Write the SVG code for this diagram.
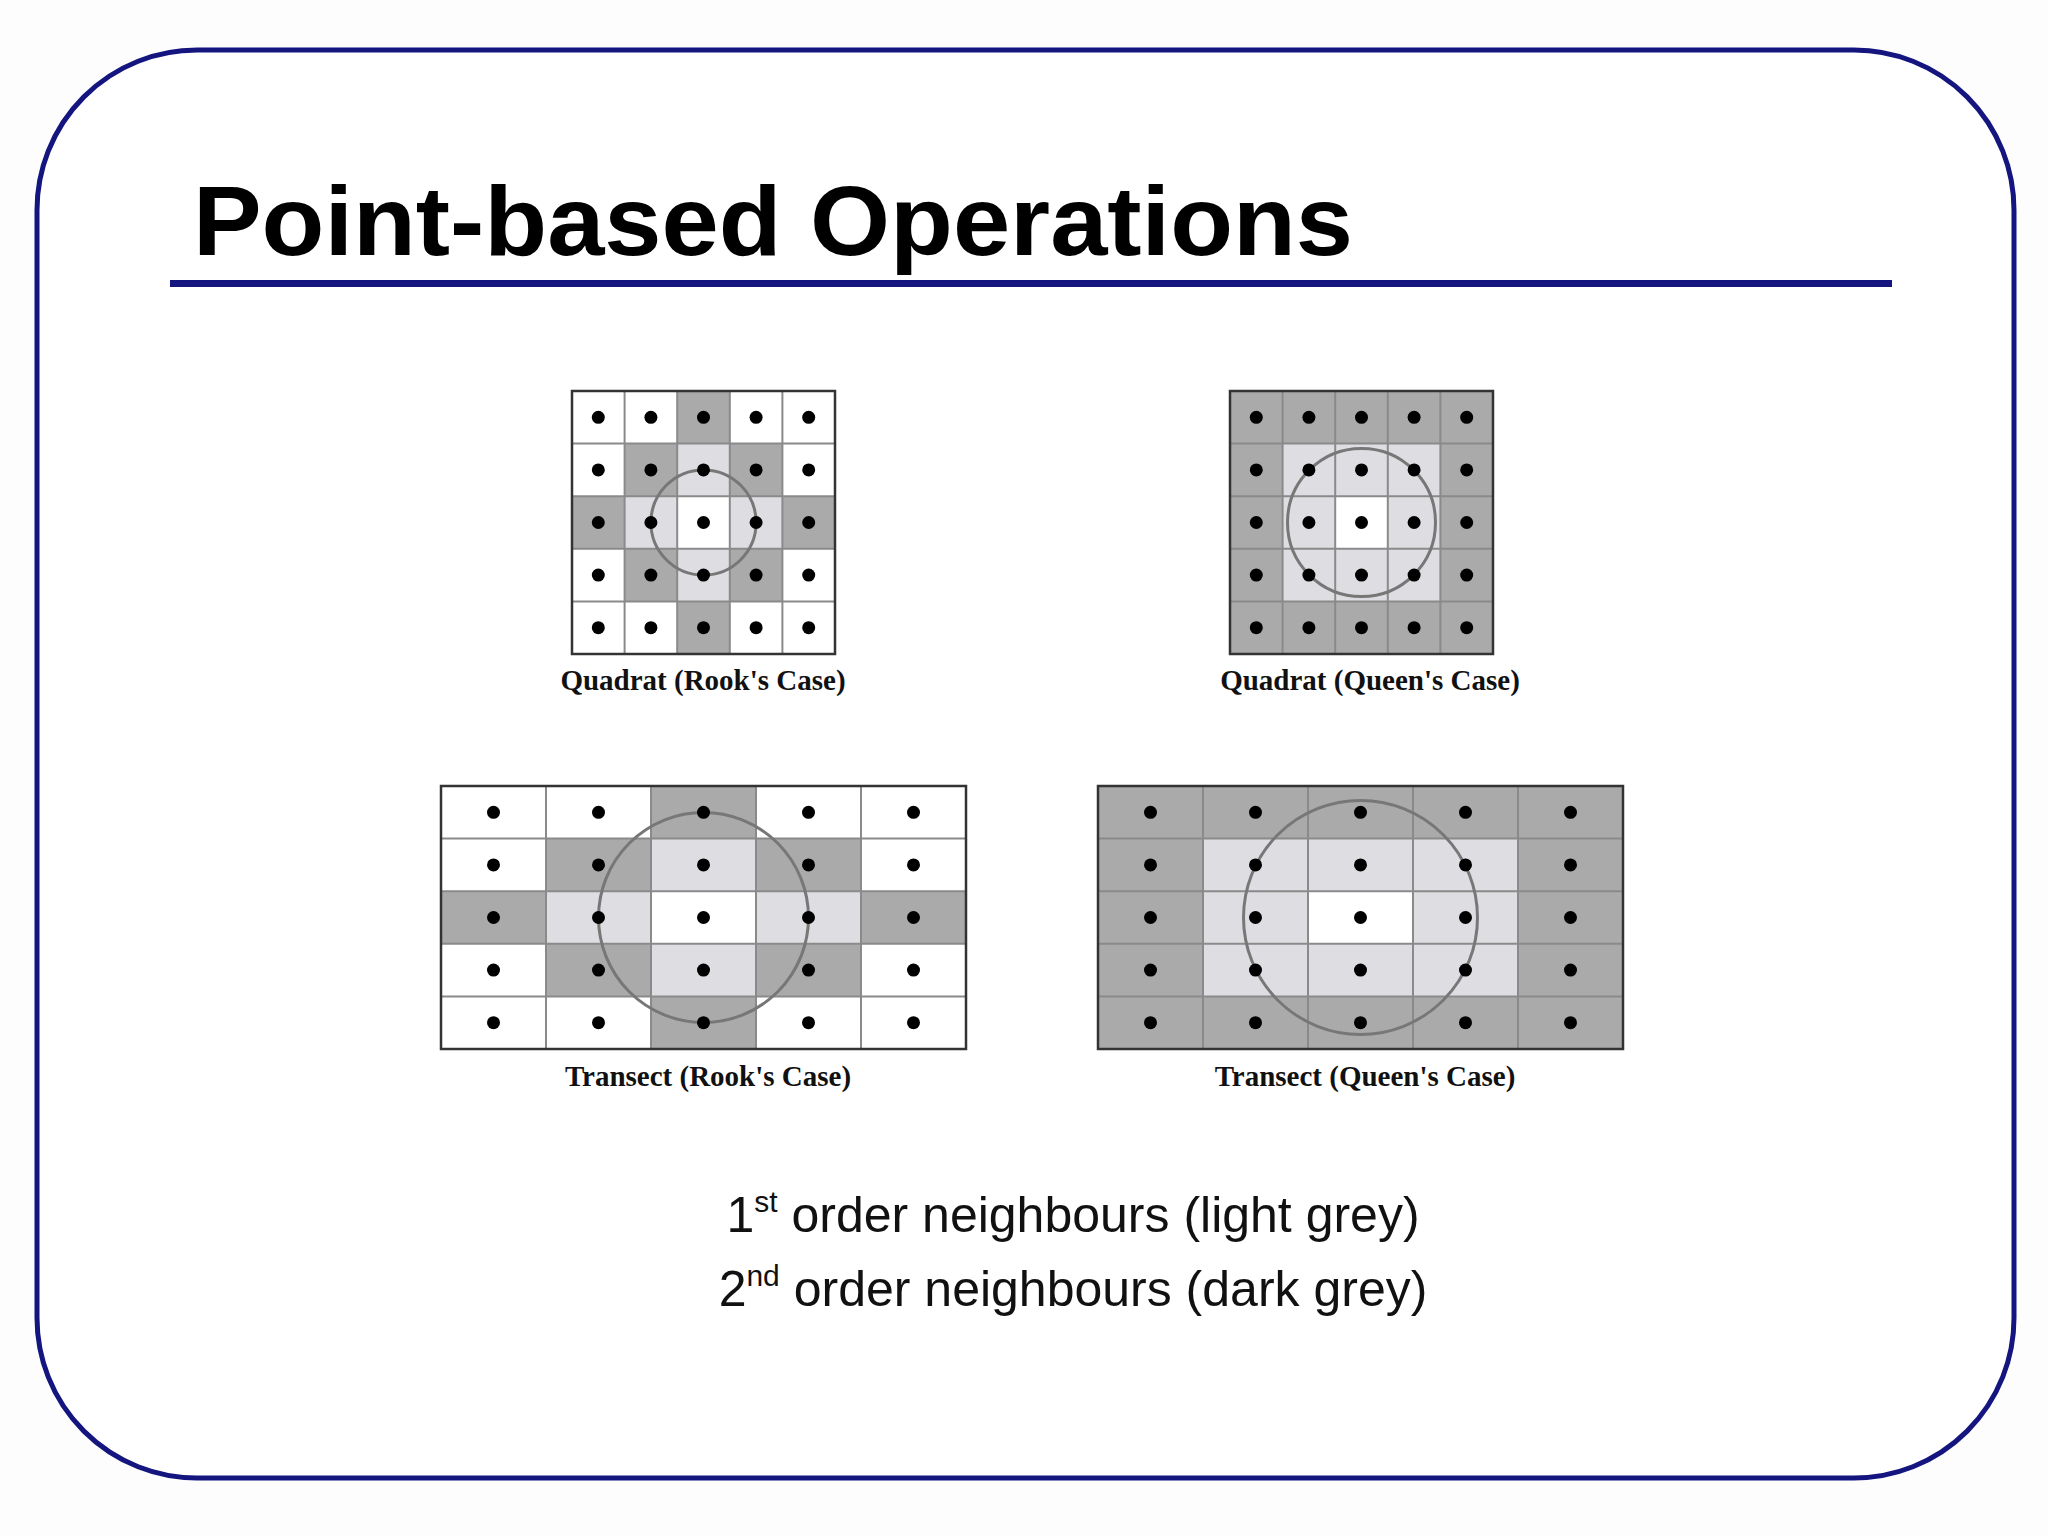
<svg xmlns="http://www.w3.org/2000/svg" width="2048" height="1536" viewBox="0 0 2048 1536">
<style>
.d{fill:#aaaaab}.l{fill:#dedee2}.w{fill:#fff}
.g{fill:none;stroke:#8a8a8a;stroke-width:2}
.o{fill:none;stroke:#333;stroke-width:2.5}
.c{fill:none;stroke:#777;stroke-width:3}
.cap{font-family:"Liberation Serif",serif;font-weight:bold;font-size:29px;fill:#111;text-anchor:middle}
.leg{font-family:"Liberation Sans",Arial,sans-serif;font-size:50px;fill:#111;text-anchor:middle}
</style>
<defs><circle id="dt" r="6.5" fill="#000"/></defs>
<rect width="2048" height="1536" fill="#fdfdfe"/>
<rect x="37" y="50" width="1977" height="1428" rx="160" ry="160" fill="#fff" stroke="#15157f" stroke-width="5"/>
<text x="193" y="255" font-family="'Liberation Sans',Arial,sans-serif" font-weight="900" font-size="98" textLength="1160" lengthAdjust="spacingAndGlyphs" fill="#000">Point-based Operations</text>
<rect x="170" y="280" width="1722" height="7" fill="#15157f"/>

<g id="quadrat-rook">
<rect x="572" y="391" width="263" height="263" class="w"/>
<rect x="677.2" y="391" width="52.6" height="52.6" class="d"/>
<rect x="624.6" y="443.6" width="52.6" height="52.6" class="d"/>
<rect x="729.8" y="443.6" width="52.6" height="52.6" class="d"/>
<rect x="572" y="496.2" width="52.6" height="52.6" class="d"/>
<rect x="782.4" y="496.2" width="52.6" height="52.6" class="d"/>
<rect x="624.6" y="548.8" width="52.6" height="52.6" class="d"/>
<rect x="729.8" y="548.8" width="52.6" height="52.6" class="d"/>
<rect x="677.2" y="601.4" width="52.6" height="52.6" class="d"/>
<rect x="677.2" y="443.6" width="52.6" height="52.6" class="l"/>
<rect x="624.6" y="496.2" width="52.6" height="52.6" class="l"/>
<rect x="729.8" y="496.2" width="52.6" height="52.6" class="l"/>
<rect x="677.2" y="548.8" width="52.6" height="52.6" class="l"/>
<path class="g" d="M624.6 391V654M677.2 391V654M729.8 391V654M782.4 391V654M572 443.6H835M572 496.2H835M572 548.8H835M572 601.4H835"/>
<rect x="572" y="391" width="263" height="263" class="o"/>
<circle cx="703.5" cy="522.5" r="52.6" class="c"/>
<g>
<use href="#dt" x="598.3" y="417.3"/><use href="#dt" x="650.9" y="417.3"/><use href="#dt" x="703.5" y="417.3"/><use href="#dt" x="756.1" y="417.3"/><use href="#dt" x="808.7" y="417.3"/>
<use href="#dt" x="598.3" y="469.9"/><use href="#dt" x="650.9" y="469.9"/><use href="#dt" x="703.5" y="469.9"/><use href="#dt" x="756.1" y="469.9"/><use href="#dt" x="808.7" y="469.9"/>
<use href="#dt" x="598.3" y="522.5"/><use href="#dt" x="650.9" y="522.5"/><use href="#dt" x="703.5" y="522.5"/><use href="#dt" x="756.1" y="522.5"/><use href="#dt" x="808.7" y="522.5"/>
<use href="#dt" x="598.3" y="575.1"/><use href="#dt" x="650.9" y="575.1"/><use href="#dt" x="703.5" y="575.1"/><use href="#dt" x="756.1" y="575.1"/><use href="#dt" x="808.7" y="575.1"/>
<use href="#dt" x="598.3" y="627.7"/><use href="#dt" x="650.9" y="627.7"/><use href="#dt" x="703.5" y="627.7"/><use href="#dt" x="756.1" y="627.7"/><use href="#dt" x="808.7" y="627.7"/>
</g>
<text x="703" y="690" class="cap">Quadrat (Rook's Case)</text>
</g>

<g id="quadrat-queen">
<rect x="1230" y="391" width="263" height="263" class="d"/>
<rect x="1282.6" y="443.6" width="157.8" height="157.8" class="l"/>
<rect x="1335.2" y="496.2" width="52.6" height="52.6" class="w"/>
<path class="g" d="M1282.6 391V654M1335.2 391V654M1387.8 391V654M1440.4 391V654M1230 443.6H1493M1230 496.2H1493M1230 548.8H1493M1230 601.4H1493"/>
<rect x="1230" y="391" width="263" height="263" class="o"/>
<circle cx="1361.5" cy="522.5" r="74" class="c"/>
<g>
<use href="#dt" x="1256.3" y="417.3"/><use href="#dt" x="1308.9" y="417.3"/><use href="#dt" x="1361.5" y="417.3"/><use href="#dt" x="1414.1" y="417.3"/><use href="#dt" x="1466.7" y="417.3"/>
<use href="#dt" x="1256.3" y="469.9"/><use href="#dt" x="1308.9" y="469.9"/><use href="#dt" x="1361.5" y="469.9"/><use href="#dt" x="1414.1" y="469.9"/><use href="#dt" x="1466.7" y="469.9"/>
<use href="#dt" x="1256.3" y="522.5"/><use href="#dt" x="1308.9" y="522.5"/><use href="#dt" x="1361.5" y="522.5"/><use href="#dt" x="1414.1" y="522.5"/><use href="#dt" x="1466.7" y="522.5"/>
<use href="#dt" x="1256.3" y="575.1"/><use href="#dt" x="1308.9" y="575.1"/><use href="#dt" x="1361.5" y="575.1"/><use href="#dt" x="1414.1" y="575.1"/><use href="#dt" x="1466.7" y="575.1"/>
<use href="#dt" x="1256.3" y="627.7"/><use href="#dt" x="1308.9" y="627.7"/><use href="#dt" x="1361.5" y="627.7"/><use href="#dt" x="1414.1" y="627.7"/><use href="#dt" x="1466.7" y="627.7"/>
</g>
<text x="1370" y="690" class="cap">Quadrat (Queen's Case)</text>
</g>

<g id="transect-rook">
<rect x="441" y="786" width="525" height="263" class="w"/>
<rect x="651" y="786" width="105" height="52.6" class="d"/>
<rect x="546" y="838.6" width="105" height="52.6" class="d"/>
<rect x="756" y="838.6" width="105" height="52.6" class="d"/>
<rect x="441" y="891.2" width="105" height="52.6" class="d"/>
<rect x="861" y="891.2" width="105" height="52.6" class="d"/>
<rect x="546" y="943.8" width="105" height="52.6" class="d"/>
<rect x="756" y="943.8" width="105" height="52.6" class="d"/>
<rect x="651" y="996.4" width="105" height="52.6" class="d"/>
<rect x="651" y="838.6" width="105" height="52.6" class="l"/>
<rect x="546" y="891.2" width="105" height="52.6" class="l"/>
<rect x="756" y="891.2" width="105" height="52.6" class="l"/>
<rect x="651" y="943.8" width="105" height="52.6" class="l"/>
<path class="g" d="M546 786V1049M651 786V1049M756 786V1049M861 786V1049M441 838.6H966M441 891.2H966M441 943.8H966M441 996.4H966"/>
<rect x="441" y="786" width="525" height="263" class="o"/>
<circle cx="703.5" cy="917.5" r="105" class="c"/>
<g>
<use href="#dt" x="493.5" y="812.3"/><use href="#dt" x="598.5" y="812.3"/><use href="#dt" x="703.5" y="812.3"/><use href="#dt" x="808.5" y="812.3"/><use href="#dt" x="913.5" y="812.3"/>
<use href="#dt" x="493.5" y="864.9"/><use href="#dt" x="598.5" y="864.9"/><use href="#dt" x="703.5" y="864.9"/><use href="#dt" x="808.5" y="864.9"/><use href="#dt" x="913.5" y="864.9"/>
<use href="#dt" x="493.5" y="917.5"/><use href="#dt" x="598.5" y="917.5"/><use href="#dt" x="703.5" y="917.5"/><use href="#dt" x="808.5" y="917.5"/><use href="#dt" x="913.5" y="917.5"/>
<use href="#dt" x="493.5" y="970.1"/><use href="#dt" x="598.5" y="970.1"/><use href="#dt" x="703.5" y="970.1"/><use href="#dt" x="808.5" y="970.1"/><use href="#dt" x="913.5" y="970.1"/>
<use href="#dt" x="493.5" y="1022.7"/><use href="#dt" x="598.5" y="1022.7"/><use href="#dt" x="703.5" y="1022.7"/><use href="#dt" x="808.5" y="1022.7"/><use href="#dt" x="913.5" y="1022.7"/>
</g>
<text x="708" y="1086" class="cap">Transect (Rook's Case)</text>
</g>

<g id="transect-queen">
<rect x="1098" y="786" width="525" height="263" class="d"/>
<rect x="1203" y="838.6" width="315" height="157.8" class="l"/>
<rect x="1308" y="891.2" width="105" height="52.6" class="w"/>
<path class="g" d="M1203 786V1049M1308 786V1049M1413 786V1049M1518 786V1049M1098 838.6H1623M1098 891.2H1623M1098 943.8H1623M1098 996.4H1623"/>
<rect x="1098" y="786" width="525" height="263" class="o"/>
<circle cx="1360.5" cy="917.5" r="117" class="c"/>
<g>
<use href="#dt" x="1150.5" y="812.3"/><use href="#dt" x="1255.5" y="812.3"/><use href="#dt" x="1360.5" y="812.3"/><use href="#dt" x="1465.5" y="812.3"/><use href="#dt" x="1570.5" y="812.3"/>
<use href="#dt" x="1150.5" y="864.9"/><use href="#dt" x="1255.5" y="864.9"/><use href="#dt" x="1360.5" y="864.9"/><use href="#dt" x="1465.5" y="864.9"/><use href="#dt" x="1570.5" y="864.9"/>
<use href="#dt" x="1150.5" y="917.5"/><use href="#dt" x="1255.5" y="917.5"/><use href="#dt" x="1360.5" y="917.5"/><use href="#dt" x="1465.5" y="917.5"/><use href="#dt" x="1570.5" y="917.5"/>
<use href="#dt" x="1150.5" y="970.1"/><use href="#dt" x="1255.5" y="970.1"/><use href="#dt" x="1360.5" y="970.1"/><use href="#dt" x="1465.5" y="970.1"/><use href="#dt" x="1570.5" y="970.1"/>
<use href="#dt" x="1150.5" y="1022.7"/><use href="#dt" x="1255.5" y="1022.7"/><use href="#dt" x="1360.5" y="1022.7"/><use href="#dt" x="1465.5" y="1022.7"/><use href="#dt" x="1570.5" y="1022.7"/>
</g>
<text x="1365" y="1086" class="cap">Transect (Queen's Case)</text>
</g>

<g id="legend">
<text x="1073" y="1232" class="leg">1<tspan font-size="30" dy="-20">st</tspan><tspan dy="20"> order neighbours (light grey)</tspan></text>
<text x="1073" y="1306" class="leg">2<tspan font-size="30" dy="-20">nd</tspan><tspan dy="20"> order neighbours (dark grey)</tspan></text>
</g>
</svg>
